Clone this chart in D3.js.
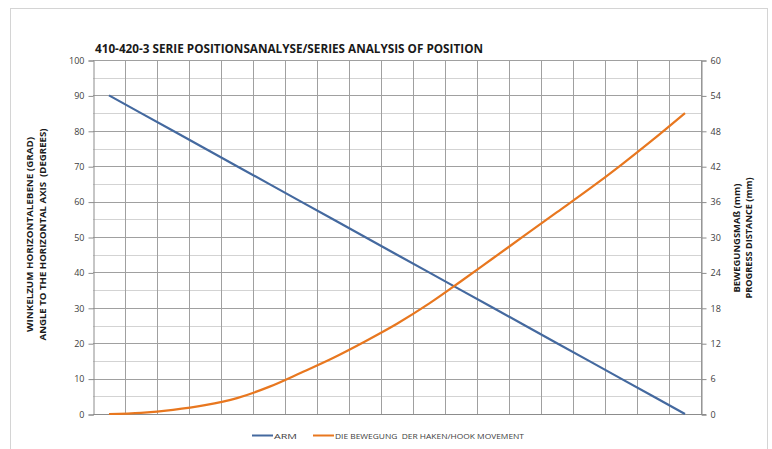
<!DOCTYPE html>
<html>
<head>
<meta charset="utf-8">
<script src="https://cdn.jsdelivr.net/npm/d3@7"></script>
<style>
  html, body { margin: 0; padding: 0; background: #fff; }
  svg { display: block; }
</style>
</head>
<body>
<svg id="chart" width="772" height="449"></svg>
<script>
// ---- data ----
const categories = d3.range(1, 20).map(String); // 19 positions
const armAngle = [90, 85, 80, 75, 70, 65, 60, 55, 50, 45, 40, 35, 30, 25, 20, 15, 10, 5, 0];
const hookMovement = [0, 0.2, 0.7, 1.5, 2.7, 4.6, 7.0, 9.5, 12.3, 15.3, 18.7, 22.5, 26.4, 30.3, 34.2, 38.1, 42.2, 46.5, 51.0];
const leftTicks = [0, 10, 20, 30, 40, 50, 60, 70, 80, 90, 100];
const rightTicks = [0, 6, 12, 18, 24, 30, 36, 42, 48, 54, 60];
const titleText = "410-420-3 SERIE POSITIONSANALYSE/SERIES ANALYSIS OF POSITION";
const leftTitle = ["WINKELZUM HORIZONTALEBENE (GRAD)", "ANGLE TO THE HORIZONTAL AXIS  (DEGREES)"];
const rightTitle = ["BEWEGUNGSMAß (mm)", "PROGRESS DISTANCE (mm)"];
const seriesNames = ["ARM", "DIE BEWEGUNG  DER HAKEN/HOOK MOVEMENT"];

// ---- layout ----
const svg = d3.select("#chart");
const L = 93, R = 701, T = 60, B = 414;
const blue = "#44699f", orange = "#e8771f";
const font = "'Open Sans', 'DejaVu Sans', sans-serif";

svg.append("rect").attr("x", 10.5).attr("y", 8.5).attr("width", 757).attr("height", 448)
  .attr("fill", "none").attr("stroke", "#d4d4d4");

const x = d3.scaleBand().domain(categories).range([L, R]).padding(0);
const yL = d3.scaleLinear().domain([0, 100]).range([B, T]);
const yR = d3.scaleLinear().domain([0, 60]).range([B, T]);

// horizontal gridlines (minor every 5, major every 10)
const g = svg.append("g");
const minor = d3.range(5, 100, 10);
g.selectAll("line.minor").data(minor).join("line")
  .attr("x1", L).attr("x2", R)
  .attr("y1", d => Math.round(yL(d)) + 0.5).attr("y2", d => Math.round(yL(d)) + 0.5)
  .attr("stroke", "#d3d3d3").attr("stroke-width", 1);
g.selectAll("line.major").data(leftTicks.slice(1)).join("line")
  .attr("x1", L).attr("x2", R)
  .attr("y1", d => Math.round(yL(d)) + 0.5).attr("y2", d => Math.round(yL(d)) + 0.5)
  .attr("stroke", "#a0a0a0").attr("stroke-width", 1);
// vertical gridlines at category boundaries
const bounds = categories.slice(1).map(c => x(c)).concat([R]);
g.selectAll("line.v").data(bounds).join("line")
  .attr("x1", d => Math.round(d) + 0.5).attr("x2", d => Math.round(d) + 0.5)
  .attr("y1", T).attr("y2", B)
  .attr("stroke", "#a0a0a0").attr("stroke-width", 1);

// axes
const axL = svg.append("g").attr("transform", `translate(${L + 0.5},0.5)`)
  .call(d3.axisLeft(yL).tickValues(leftTicks).tickSize(5).tickPadding(4));
const axR = svg.append("g").attr("transform", `translate(${R + 0.5},0.5)`)
  .call(d3.axisRight(yR).tickValues(rightTicks).tickSize(5).tickPadding(4));
svg.append("line").attr("x1", L).attr("x2", R + 5).attr("y1", B + 0.5).attr("y2", B + 0.5)
  .attr("stroke", "#8c8c8c");
[axL, axR].forEach(a => {
  a.select(".domain").attr("stroke", "#8c8c8c");
  a.selectAll(".tick line").attr("stroke", "#8c8c8c");
  a.selectAll(".tick text").attr("fill", "#404040").style("font-family", font).style("font-size", "9px");
});

// series
const cx = (d, i) => x(categories[i]) + x.bandwidth() / 2;
svg.append("path").datum(armAngle)
  .attr("d", d3.line().x(cx).y(d => yL(d)))
  .attr("fill", "none").attr("stroke", blue).attr("stroke-width", 2.2);
svg.append("path").datum(hookMovement)
  .attr("d", d3.line().x(cx).y(d => yR(d)).curve(d3.curveCatmullRom.alpha(0.5)))
  .attr("fill", "none").attr("stroke", orange).attr("stroke-width", 2.2);

// title
svg.append("text").attr("x", 95).attr("y", 53).text(titleText)
  .attr("textLength", 388).attr("lengthAdjust", "spacingAndGlyphs")
  .style("font-family", font).style("font-weight", "bold").style("font-size", "12.5px").attr("fill", "#1a1a1a");

// axis titles
const at = (lines, cxs, cy, lens) => {
  lines.forEach((t, i) => {
    svg.append("text").attr("transform", `translate(${cxs[i]},${cy}) rotate(-90)`)
      .attr("text-anchor", "middle").text(t)
      .attr("textLength", lens[i]).attr("lengthAdjust", "spacingAndGlyphs")
      .style("white-space", "pre")
      .style("font-family", font).style("font-weight", "bold").style("font-size", "9px").attr("fill", "#1a1a1a");
  });
};
at(leftTitle, [33, 46], 234.5, [195, 212]);
at(rightTitle, [740, 752], 238, [109, 121]);

// legend
const leg = svg.append("g");
const legItems = [{n: seriesNames[0], c: blue, x: 252, tl: 23}, {n: seriesNames[1], c: orange, x: 313, tl: 189}];
legItems.forEach(it => {
  leg.append("line").attr("x1", it.x).attr("x2", it.x + 21).attr("y1", 435.5).attr("y2", 435.5)
    .attr("stroke", it.c).attr("stroke-width", 2);
  leg.append("text").attr("x", it.x + 22).attr("y", 438.5).text(it.n)
    .attr("textLength", it.tl).attr("lengthAdjust", "spacingAndGlyphs")
    .style("white-space", "pre")
    .style("font-family", font).style("font-size", "8px").attr("fill", "#404040");
});
</script>
</body>
</html>
